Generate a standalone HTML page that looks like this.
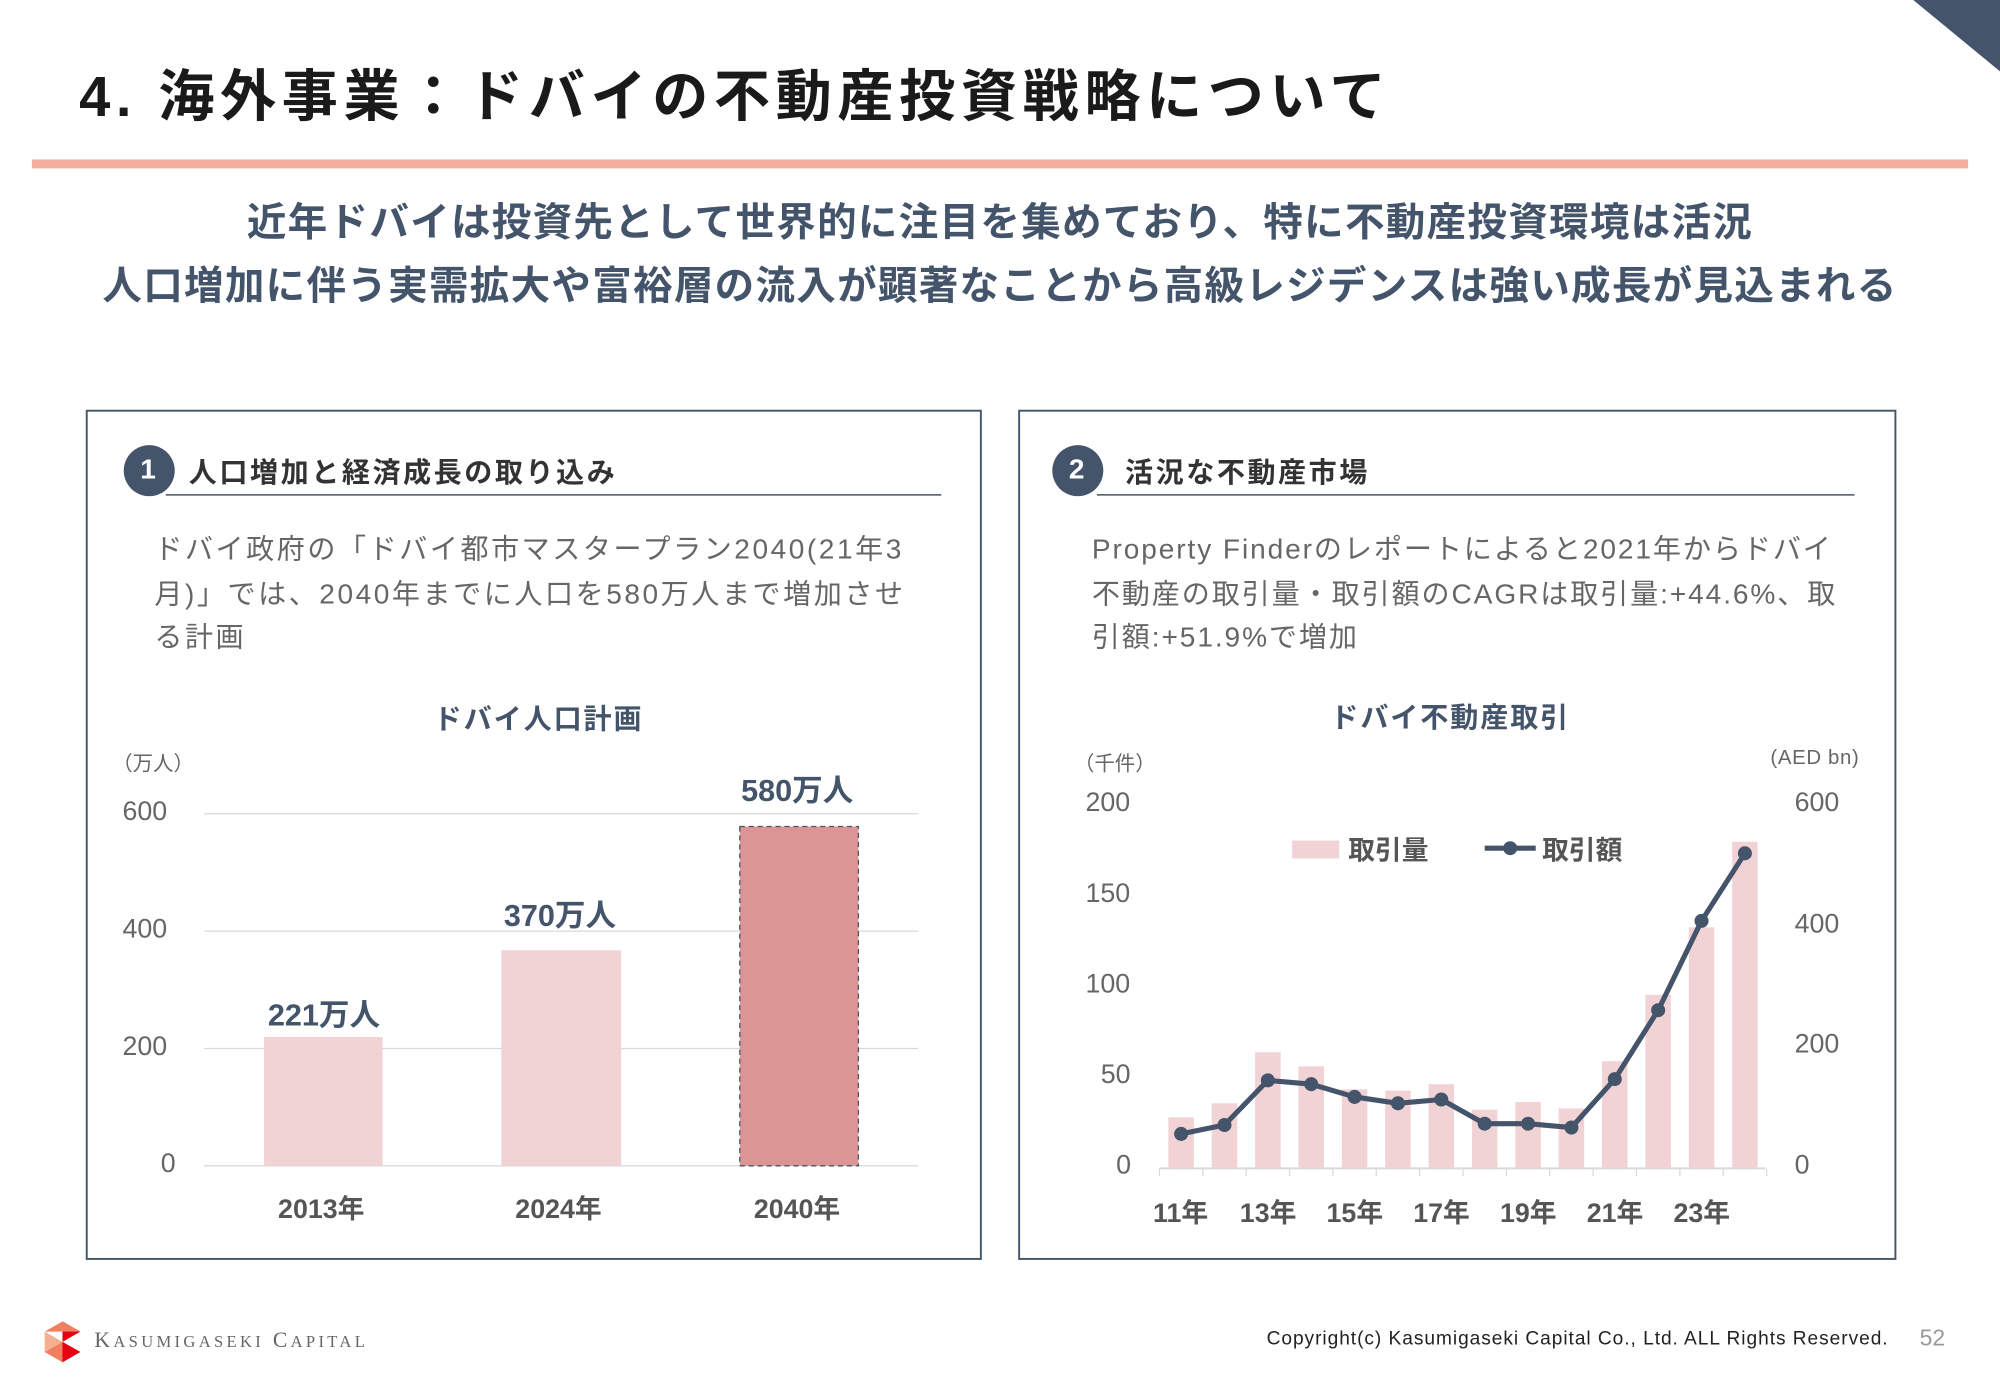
<!DOCTYPE html>
<html><head><meta charset="utf-8"><style>
html,body{margin:0;padding:0;background:#fff;overflow:hidden}
#w{position:absolute;left:0;top:0;width:1568px;height:1086px;transform:scale(1.27551);transform-origin:0 0;font-family:"Liberation Sans","Noto Sans CJK JP",sans-serif;color:#44546a}
.a{position:absolute;white-space:nowrap}
</style></head><body><div id="w">
<svg class="a" style="left:0;top:0" width="1568" height="1086">
<polygon points="1500,0 1568,0 1568,56" fill="#44546a"/>
<rect x="25" y="125" width="1518" height="7" fill="#f4aea0"/>
<rect x="68" y="322" width="701" height="665" fill="none" stroke="#44546a" stroke-width="1.5"/>
<rect x="799" y="322" width="687" height="665" fill="none" stroke="#44546a" stroke-width="1.5"/>
<circle cx="117" cy="369" r="20" fill="#44546a"/>
<circle cx="845" cy="369" r="20" fill="#44546a"/>
<line x1="130" y1="388" x2="738" y2="388" stroke="#44546a" stroke-width="1.2"/>
<line x1="860" y1="388" x2="1454" y2="388" stroke="#44546a" stroke-width="1.2"/>
<g stroke="#d9d9d9" stroke-width="1"><line x1="160" y1="638" x2="720" y2="638"/><line x1="160" y1="730" x2="720" y2="730"/><line x1="160" y1="822" x2="720" y2="822"/><line x1="160" y1="914" x2="720" y2="914"/></g>
<rect x="207" y="813" width="93" height="101" fill="#f2d3d5"/>
<rect x="393" y="745" width="94" height="169" fill="#f2d3d5"/>
<rect x="580" y="648" width="93" height="266" fill="#db9595" stroke="#44546a" stroke-dasharray="4,3" stroke-width="1"/>
<line x1="909" y1="916" x2="1384" y2="916" stroke="#d9d9d9" stroke-width="1.5"/>
<g stroke="#d9d9d9" stroke-width="1">
<line x1="909" y1="916" x2="909" y2="922"/><line x1="943" y1="916" x2="943" y2="922"/><line x1="977" y1="916" x2="977" y2="922"/><line x1="1011" y1="916" x2="1011" y2="922"/><line x1="1045" y1="916" x2="1045" y2="922"/><line x1="1079" y1="916" x2="1079" y2="922"/><line x1="1113" y1="916" x2="1113" y2="922"/><line x1="1147" y1="916" x2="1147" y2="922"/><line x1="1181" y1="916" x2="1181" y2="922"/><line x1="1215" y1="916" x2="1215" y2="922"/><line x1="1249" y1="916" x2="1249" y2="922"/><line x1="1283" y1="916" x2="1283" y2="922"/><line x1="1317" y1="916" x2="1317" y2="922"/><line x1="1351" y1="916" x2="1351" y2="922"/><line x1="1385" y1="916" x2="1385" y2="922"/>
</g>
<g fill="#f2d3d5">
<rect x="916" y="876" width="20" height="40"/><rect x="950" y="865" width="20" height="51"/><rect x="984" y="825" width="20" height="91"/><rect x="1018" y="836" width="20" height="80"/><rect x="1052" y="854" width="20" height="62"/><rect x="1086" y="855" width="20" height="61"/><rect x="1120" y="850" width="20" height="66"/><rect x="1154" y="870" width="20" height="46"/><rect x="1188" y="864" width="20" height="52"/><rect x="1222" y="869" width="20" height="47"/><rect x="1256" y="832" width="20" height="84"/><rect x="1290" y="780" width="20" height="136"/><rect x="1324" y="727" width="20" height="189"/><rect x="1358" y="660" width="20" height="256"/>
</g>
<polyline fill="none" stroke="#44546a" stroke-width="4" stroke-linejoin="round" points="926,889 960,882 994,847 1028,850 1062,860 1096,865 1130,862 1164,881 1198,881 1232,884 1266,846 1300,792 1334,722 1368,669"/>
<g fill="#44546a">
<circle cx="926" cy="889" r="5.5"/><circle cx="960" cy="882" r="5.5"/><circle cx="994" cy="847" r="5.5"/><circle cx="1028" cy="850" r="5.5"/><circle cx="1062" cy="860" r="5.5"/><circle cx="1096" cy="865" r="5.5"/><circle cx="1130" cy="862" r="5.5"/><circle cx="1164" cy="881" r="5.5"/><circle cx="1198" cy="881" r="5.5"/><circle cx="1232" cy="884" r="5.5"/><circle cx="1266" cy="846" r="5.5"/><circle cx="1300" cy="792" r="5.5"/><circle cx="1334" cy="722" r="5.5"/><circle cx="1368" cy="669" r="5.5"/>
</g>
<rect x="1013" y="659" width="37" height="14" fill="#f2d3d5"/>
<line x1="1164" y1="665" x2="1204" y2="665" stroke="#44546a" stroke-width="4"/><circle cx="1184" cy="665" r="5.5" fill="#44546a"/>
<polygon points="49,1036 63,1044 49,1052" fill="#e60012"/>
<polygon points="49,1036 63,1044 35,1044" fill="#f08060"/>
<polygon points="35,1044 49,1052 35,1060" fill="#f5b090"/>
<polygon points="49,1052 63,1060 49,1068 35,1060" fill="#f08060"/>
<polygon points="49,1052 63,1060 49,1068" fill="#e60012"/>
</svg>
<div class="a" style="left:62px;top:40px;font-size:44px;font-weight:bold;color:#1a1a1a;letter-spacing:4.4px">4. 海外事業：ドバイの不動産投資戦略について</div>
<div class="a" style="left:0;width:1568px;text-align:center;top:150px;font-size:31px;font-weight:bold;line-height:50px;white-space:normal;letter-spacing:1px">近年ドバイは投資先として世界的に注目を集めており、特に不動産投資環境は活況<br>人口増加に伴う実需拡大や富裕層の流入が顕著なことから高級レジデンスは強い成長が見込まれる</div>
<div class="a" style="left:110px;top:355px;font-size:22px;font-weight:bold;color:#fff">1</div>
<div class="a" style="left:838px;top:355px;font-size:22px;font-weight:bold;color:#fff">2</div>
<div class="a" style="left:148px;top:353px;font-size:22px;font-weight:bold;color:#333;letter-spacing:2px">人口増加と経済成長の取り込み</div>
<div class="a" style="left:882px;top:353px;font-size:22px;font-weight:bold;color:#333;letter-spacing:2px">活況な不動産市場</div>
<div class="a" style="left:121px;top:414px;font-size:22px;line-height:34.5px;color:#666;letter-spacing:2px">ドバイ政府の「ドバイ都市マスタープラン2040(21年3<br>月)」では、2040年までに人口を580万人まで増加させ<br>る計画</div>
<div class="a" style="left:856px;top:414px;font-size:22px;line-height:34.5px;color:#666;letter-spacing:1.5px">Property Finderのレポートによると2021年からドバイ<br>不動産の取引量・取引額のCAGRは取引量:+44.6%、取<br>引額:+51.9%で増加</div>
<div class="a" style="left:340px;top:546px;font-size:22px;font-weight:bold;letter-spacing:1.5px">ドバイ人口計画</div>
<div class="a" style="left:1043px;top:545px;font-size:22px;font-weight:bold;letter-spacing:1.5px">ドバイ不動産取引</div>
<div class="a" style="left:88px;top:585px;font-size:16px;color:#666">（万人）</div>
<div class="a" style="left:96px;top:625px;font-size:21px;color:#666">600</div>
<div class="a" style="left:96px;top:717px;font-size:21px;color:#666">400</div>
<div class="a" style="left:96px;top:809px;font-size:21px;color:#666">200</div>
<div class="a" style="left:126px;top:901px;font-size:21px;color:#666">0</div>
<div class="a" style="left:210px;top:776px;font-size:24px;font-weight:bold">221万人</div>
<div class="a" style="left:395px;top:698px;font-size:24px;font-weight:bold">370万人</div>
<div class="a" style="left:581px;top:600px;font-size:24px;font-weight:bold">580万人</div>
<div class="a" style="left:218px;top:932px;font-size:21px;font-weight:bold;color:#555">2013年</div>
<div class="a" style="left:404px;top:932px;font-size:21px;font-weight:bold;color:#555">2024年</div>
<div class="a" style="left:591px;top:932px;font-size:21px;font-weight:bold;color:#555">2040年</div>
<div class="a" style="left:842px;top:585px;font-size:16px;color:#666">（千件）</div>
<div class="a" style="left:1388px;top:586px;font-size:16px;color:#666;letter-spacing:0.5px">(AED bn)</div>
<div class="a" style="left:851px;top:618px;font-size:21px;color:#666">200</div>
<div class="a" style="left:851px;top:689px;font-size:21px;color:#666">150</div>
<div class="a" style="left:851px;top:760px;font-size:21px;color:#666">100</div>
<div class="a" style="left:863px;top:831px;font-size:21px;color:#666">50</div>
<div class="a" style="left:875px;top:902px;font-size:21px;color:#666">0</div>
<div class="a" style="left:1407px;top:618px;font-size:21px;color:#666">600</div>
<div class="a" style="left:1407px;top:713px;font-size:21px;color:#666">400</div>
<div class="a" style="left:1407px;top:807px;font-size:21px;color:#666">200</div>
<div class="a" style="left:1407px;top:902px;font-size:21px;color:#666">0</div>
<div class="a" style="left:1057px;top:651px;font-size:21px;font-weight:bold;color:#555">取引量</div>
<div class="a" style="left:1209px;top:651px;font-size:21px;font-weight:bold;color:#555">取引額</div>
<div class="a" style="left:904px;top:935px;font-size:21px;font-weight:bold;color:#555">11年</div>
<div class="a" style="left:972px;top:935px;font-size:21px;font-weight:bold;color:#555">13年</div>
<div class="a" style="left:1040px;top:935px;font-size:21px;font-weight:bold;color:#555">15年</div>
<div class="a" style="left:1108px;top:935px;font-size:21px;font-weight:bold;color:#555">17年</div>
<div class="a" style="left:1176px;top:935px;font-size:21px;font-weight:bold;color:#555">19年</div>
<div class="a" style="left:1244px;top:935px;font-size:21px;font-weight:bold;color:#555">21年</div>
<div class="a" style="left:1312px;top:935px;font-size:21px;font-weight:bold;color:#555">23年</div>
<div class="a" style="left:74px;top:1041px;font-size:17px;font-family:'Liberation Serif',serif;color:#666;letter-spacing:2.6px">K<span style="font-size:13px">ASUMIGASEKI</span> C<span style="font-size:13px">APITAL</span></div>
<div class="a" style="left:993px;top:1041px;font-size:15px;color:#222;letter-spacing:0.75px">Copyright(c) Kasumigaseki Capital Co., Ltd. ALL Rights Reserved.</div>
<div class="a" style="left:1505px;top:1039px;font-size:18px;color:#999">52</div>
</div></body></html>
